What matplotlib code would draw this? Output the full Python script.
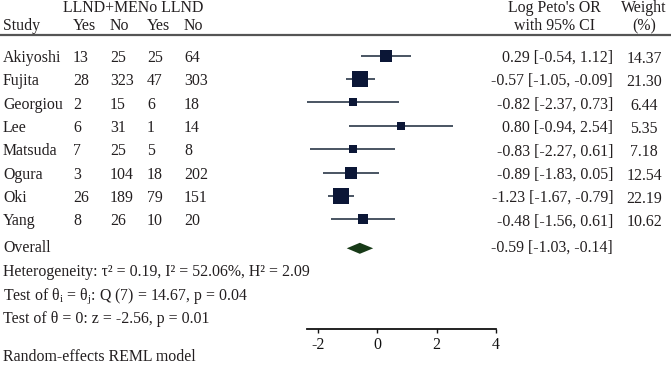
import matplotlib
matplotlib.use("Agg")
import matplotlib.pyplot as plt
import numpy as np

# ---- data ----
studies = ["Akiyoshi", "Fujita", "Georgiou", "Lee", "Matsuda", "Ogura", "Oki", "Yang"]
treat_yes = [13, 28, 2, 6, 7, 3, 26, 8]
treat_no = [25, 323, 15, 31, 25, 104, 189, 26]
ctrl_yes = [25, 47, 6, 1, 5, 18, 79, 10]
ctrl_no = [64, 303, 18, 14, 8, 202, 151, 20]
log_or = [0.29, -0.57, -0.82, 0.80, -0.83, -0.89, -1.23, -0.48]
ci_low = [-0.54, -1.05, -2.37, -0.94, -2.27, -1.83, -1.67, -1.56]
ci_high = [1.12, -0.09, 0.73, 2.54, 0.61, 0.05, -0.79, 0.61]
weights = [14.37, 21.30, 6.44, 5.35, 7.18, 12.54, 22.19, 10.62]
overall = (-0.59, -1.03, -0.14)
xticks = [-2, 0, 2, 4]

W, H = 671, 373
plt.rcParams['font.family'] = ['Liberation Serif', 'DejaVu Serif']
plt.rcParams['mathtext.fontset'] = 'custom'
plt.rcParams['mathtext.rm'] = 'Liberation Serif'
plt.rcParams['mathtext.it'] = 'Liberation Serif:italic'
FS = 11.4
TXT = '#231f20'

fig = plt.figure(figsize=(W / 100, H / 100), dpi=100)

def fx(px):
    return px / W

def fy(py):
    return 1 - py / H

def t(x, y, s, ha='left', **kw):
    fig.text(fx(x), fy(y), s, ha=ha, va='baseline', fontsize=FS, color=TXT, **kw)

# forest axes: x from 307 to 496 px, y from 40 to 329 px (y data == pixel rows)
ax = fig.add_axes([fx(307), fy(329), (496 - 307) / W, (329 - 40) / H])
ax.set_xlim(min(ci_low), 4)
ax.set_ylim(329, 40)
for s in ['top', 'right', 'left']:
    ax.spines[s].set_visible(False)
ax.spines['bottom'].set_linewidth(1.3)
ax.spines['bottom'].set_color('#111111')
ax.set_yticks([])
ax.set_xticks(xticks)
ax.set_xticklabels([str(v) for v in xticks])
ax.tick_params(axis='x', direction='out', length=3, width=1, pad=3,
               labelsize=FS, colors='#111111')
ax.patch.set_alpha(0)

row0, dy = 55.7, 23.4
rows = [row0 + dy * i for i in range(len(studies))]
y_over = 248.3

for i, yy in enumerate(rows):
    ax.plot([ci_low[i], ci_high[i]], [yy, yy], color='#3a4656', lw=1.3,
            solid_capstyle='butt', clip_on=False, zorder=2)
    side_px = 3.3 * np.sqrt(weights[i])
    ax.plot(log_or[i], yy, marker='s', color='#0b1636', ms=side_px * 0.72,
            mew=0, clip_on=False, zorder=3)

est, lo, hi = overall
ax.fill([lo, est, hi, est], [y_over, y_over - 5.5, y_over, y_over + 5.5],
        color='#173a17', lw=0, clip_on=False, zorder=3)

# header
t(63, 11.5, "LLND+MENo LLND")
t(3, 29.5, "Study")
for x, s in zip([73, 110, 147, 184], ["Yes", "No", "Yes", "No"]):
    t(x, 29.5, s)
t(554, 11.5, "Log Peto's OR", ha='center')
t(554, 30.5, "with 95% CI", ha='center')
t(644, 11.5, "Weight", ha='center')
t(644, 30.5, "(%)", ha='center')
fig.add_artist(plt.Line2D([0, 1], [fy(34.5), fy(34.5)], color='#555555', lw=1.6,
                          transform=fig.transFigure))

# rows
for i, yy in enumerate(rows):
    b = yy + 6
    t(3, b, studies[i])
    t(73, b, str(treat_yes[i]))
    t(110, b, str(treat_no[i]))
    t(147, b, str(ctrl_yes[i]))
    t(184, b, str(ctrl_no[i]))
    t(613, b, f"{log_or[i]:.2f} [{ci_low[i]:.2f}, {ci_high[i]:.2f}]", ha='right')
    t(644, b + 1, f"{weights[i]:.2f}", ha='center')

t(3, 252, "Overall")
t(613, 252, f"{est:.2f} [{lo:.2f}, {hi:.2f}]", ha='right')
t(3, 276, "Heterogeneity: \u03c4\u00b2 = 0.19, I\u00b2 = 52.06%, H\u00b2 = 2.09")
t(3, 299.5, r"Test of $\mathrm{\theta_i}$ = $\mathrm{\theta_j}$: Q (7) = 14.67, p = 0.04")
t(3, 323, "Test of \u03b8 = 0: z = -2.56, p = 0.01")
t(3, 361, "Random-effects REML model")

fig.savefig("out.png", dpi=100)
